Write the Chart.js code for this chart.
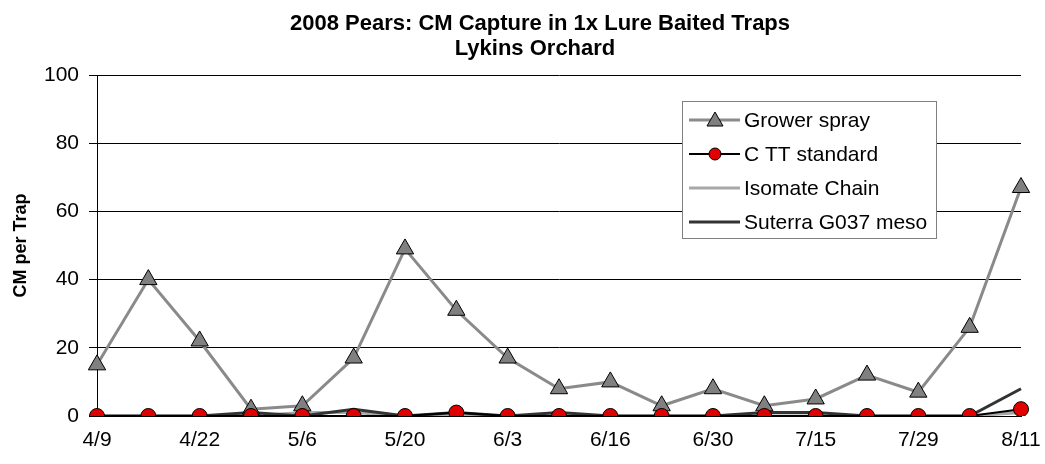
<!DOCTYPE html>
<html>
<head>
<meta charset="utf-8">
<script src="https://cdn.jsdelivr.net/npm/chart.js@4"></script>
<style>
  html, body { margin: 0; padding: 0; background: #fff; }
  #wrap { width: 1045px; height: 464px; }
</style>
</head>
<body>
<div id="wrap"><canvas id="grafico" width="1045" height="464"></canvas></div>
<script>
// ---- datos ----
const fechas = ['4/9','4/15','4/22','4/29','5/6','5/13','5/20','5/27','6/3','6/9','6/16','6/23','6/30','7/8','7/15','7/22','7/29','8/5','8/11'];
const growerSpray = [15, 40, 22, 2, 3, 17, 49, 31, 17, 8, 10, 3, 8, 3, 5, 12, 7, 26, 67];
const cttStandard = [0, 0, 0, 0, 0, 0, 0, 1, 0, 0, 0, 0, 0, 0, 0, 0, 0, 0, 2];
const isomateChain = [0, 0, 0, 0, 1, 1, 0, 0, 0, 0, 0, 0, 0, 0, 0, 0, 0, 0, 1];
const suterraG037 = [0, 0, 0, 1, 0, 2, 0, 1, 0, 1, 0, 0, 0, 1, 1, 0, 0, 0, 8];
const yTicks = [0, 20, 40, 60, 80, 100];
const titulo = ['2008 Pears: CM Capture in 1x Lure Baited Traps', 'Lykins Orchard'];

const FONT = '"Liberation Sans", Arial, sans-serif';

// titulo (centrado como en el original, algo a la derecha del centro del lienzo)
const tituloPlugin = {
    id: 'tituloCentrado',
    afterDraw(chart) {
        const ctx = chart.ctx;
        ctx.save();
        ctx.fillStyle = '#000';
        ctx.font = 'bold 22px ' + FONT;
        ctx.textAlign = 'center';
        ctx.textBaseline = 'alphabetic';
        ctx.fillText(titulo[0], 540, 30);
        ctx.fillText(titulo[1], 535, 55);
        ctx.restore();
    }
};

// leyenda dibujada dentro del area del grafico
const leyendaPlugin = {
    id: 'leyendaCaja',
    afterDraw(chart) {
        const ctx = chart.ctx;
        const x0 = 682, y0 = 101, w = 254, h = 137;
        ctx.save();
        ctx.fillStyle = '#fff';
        ctx.fillRect(x0, y0, w, h);
        ctx.strokeStyle = '#808080';
        ctx.lineWidth = 1;
        ctx.strokeRect(x0 + 0.5, y0 + 0.5, w, h);
        const filas = [120, 154, 188, 222];
        chart.data.datasets.forEach((ds, i) => {
            const y = filas[i];
            ctx.strokeStyle = ds.borderColor;
            ctx.lineWidth = ds.borderWidth;
            ctx.beginPath();
            ctx.moveTo(689, y);
            ctx.lineTo(740, y);
            ctx.stroke();
            if (ds.pointRadius > 0) {
                ctx.fillStyle = ds.pointBackgroundColor;
                ctx.strokeStyle = ds.pointBorderColor;
                ctx.lineWidth = 1;
                ctx.beginPath();
                if (ds.pointStyle === 'triangle') {
                    ctx.moveTo(715, y - 8);
                    ctx.lineTo(723, y + 6);
                    ctx.lineTo(707, y + 6);
                    ctx.closePath();
                } else {
                    ctx.arc(715, y, 6, 0, Math.PI * 2);
                }
                ctx.fill();
                ctx.stroke();
            }
            ctx.fillStyle = '#000';
            ctx.font = '21px ' + FONT;
            ctx.textBaseline = 'middle';
            ctx.textAlign = 'left';
            ctx.fillText(ds.label, 744, y + 1);
        });
        ctx.restore();
    }
};

new Chart(document.getElementById('grafico'), {
    type: 'line',
    data: {
        labels: fechas,
        datasets: [
            { label: 'Grower spray', data: growerSpray, borderColor: '#8a8a8a', borderWidth: 3,
              pointStyle: 'triangle', pointRadius: 10, pointBackgroundColor: '#808080', pointBorderColor: '#000', pointBorderWidth: 1, order: 1 },
            { label: 'C TT standard', data: cttStandard, borderColor: '#000', borderWidth: 2,
              pointStyle: 'circle', pointRadius: 7.5, pointBackgroundColor: '#e00000', pointBorderColor: '#000', pointBorderWidth: 1, order: 0 },
            { label: 'Isomate Chain', data: isomateChain, borderColor: '#a8a8a8', borderWidth: 3, pointRadius: 0, order: 3 },
            { label: 'Suterra G037 meso', data: suterraG037, borderColor: '#333333', borderWidth: 3, pointRadius: 0, order: 2 }
        ]
    },
    options: {
        responsive: false,
        animation: false,
        layout: { padding: { left: 0, right: 24, top: 75, bottom: 0 } },
        plugins: {
            legend: { display: false },
            tooltip: { enabled: false },
            title: { display: false }
        },
        scales: {
            x: {
                offset: false,
                afterFit: s => { s.height = 48; s.paddingLeft = 0; s.paddingRight = 0; },
                grid: { display: false, drawTicks: false },
                border: { color: '#000', width: 1 },
                ticks: {
                    color: '#000', font: { family: FONT, size: 21 },
                    autoSkip: false, maxRotation: 0, padding: 12,
                    callback: (v, i) => i % 2 === 0 ? fechas[i] : ''
                }
            },
            y: {
                min: 0, max: 100,
                afterFit: s => { s.width = 97; },
                afterBuildTicks: s => { s.ticks = yTicks.map(v => ({ value: v })); },
                grid: { color: '#000', lineWidth: 1, tickLength: 8 },
                border: { color: '#000', width: 1 },
                ticks: { color: '#000', font: { family: FONT, size: 21 }, padding: 10 },
                title: { display: true, text: 'CM per Trap', color: '#000',
                         font: { family: FONT, size: 18, weight: 'bold' }, padding: { top: 10, bottom: 8 } }
            }
        }
    },
    plugins: [tituloPlugin, leyendaPlugin]
});
</script>
</body>
</html>
